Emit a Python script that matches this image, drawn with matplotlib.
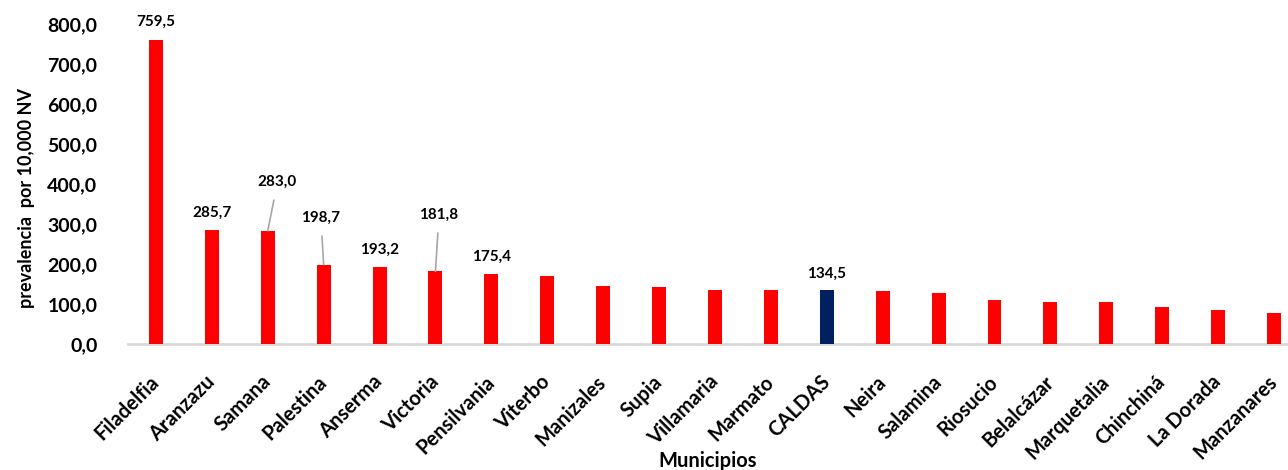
import matplotlib

matplotlib.use("Agg")
import matplotlib.pyplot as plt
import numpy as np

plt.rcParams["font.family"] = ["Lato", "DejaVu Sans"]
plt.rcParams["font.weight"] = "bold"

# ---------- data ----------
municipios = [
    "Filadelfia", "Aranzazu", "Samana", "Palestina", "Anserma", "Victoria",
    "Pensilvania", "Viterbo", "Manizales", "Supia", "Villamaria", "Marmato",
    "CALDAS", "Neira", "Salamina", "Riosucio", "Belalcázar", "Marquetalia",
    "Chinchiná", "La Dorada", "Manzanares",
]
prevalencia = [
    759.5, 285.7, 283.0, 198.7, 193.2, 181.8,
    175.4, 171.0, 146.0, 143.6, 135.3, 135.0,
    134.5, 132.0, 128.0, 109.0, 106.0, 104.6,
    93.0, 84.0, 77.0,
]
highlight = "CALDAS"

# labelled bars: name -> (dx, dy) text offset in points, leader line or not
labels = {
    "Filadelfia": ((0, 13), False),
    "Aranzazu": ((0, 12.5), False),
    "Samana": ((7, 35), True),
    "Palestina": ((-2, 33.5), True),
    "Anserma": ((0, 12.5), False),
    "Victoria": ((2.5, 40.5), True),
    "Pensilvania": ((0, 12), False),
    "CALDAS": ((0, 11.5), False),
}

RED = "#FF0000"
NAVY = "#002060"

fig = plt.figure(figsize=(12.88, 4.70), dpi=100)
ax = fig.add_axes([128 / 1288, 126 / 470, 1160 / 1288, 320 / 470])

x = np.arange(len(municipios))
colors = [NAVY if m == highlight else RED for m in municipios]
ax.bar(x, prevalencia, width=0.25, color=colors, zorder=3)

for name, ((dx, dy), leader) in labels.items():
    i = municipios.index(name)
    v = prevalencia[i]
    ax.annotate(
        f"{v:.1f}".replace(".", ","),
        xy=(i, v), xytext=(dx, dy), textcoords="offset points",
        ha="center", va="center", fontsize=11, fontweight="bold",
        color="#000000", annotation_clip=False,
        arrowprops=dict(arrowstyle="-", color="#a6a6a6", lw=1.2,
                        shrinkA=6, shrinkB=0) if leader else None,
    )

ax.set_xlim(-0.5, 20.25)
ax.set_ylim(0, 800)
ax.set_yticks(np.arange(0, 801, 100))
ax.set_yticklabels([f"{t:.1f}".replace(".", ",") for t in np.arange(0, 801, 100)],
                   fontsize=14, fontweight="bold")
ax.set_xticks(x)
ax.set_xticklabels(municipios, rotation=45, ha="right", va="center",
                   rotation_mode="anchor", fontsize=14.5, fontweight="bold")
ax.tick_params(axis="y", length=0, pad=22)
ax.tick_params(axis="x", length=0, pad=25)

for s in ("top", "right", "left"):
    ax.spines[s].set_visible(False)
ax.spines["bottom"].set_color("#d9d9d9")
ax.spines["bottom"].set_linewidth(2)

ax.set_ylabel("prevalencia  por 10,000 NV", fontsize=13, fontweight="bold")
ax.yaxis.set_label_coords(-0.08, 0.455)
ax.set_xlabel("Municipios", fontsize=14.5, fontweight="bold", va="top")
ax.xaxis.set_label_coords(0.5, -0.335)

fig.savefig("out.png", dpi=100)
